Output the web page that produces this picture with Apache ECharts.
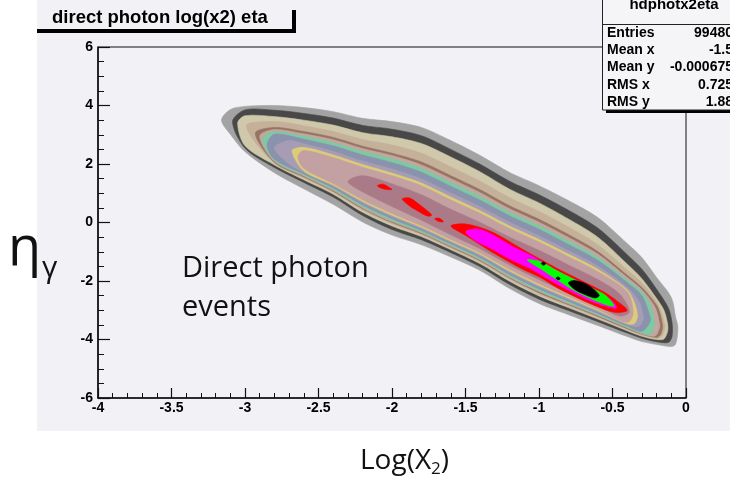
<!DOCTYPE html>
<html>
<head>
<meta charset="utf-8">
<script src="https://cdn.jsdelivr.net/npm/echarts@6/dist/echarts.min.js"></script>
<style>
  html, body { margin: 0; padding: 0; background: #ffffff; }
  #chart { width: 730px; height: 477px; }
</style>
</head>
<body>
<div id="chart"></div>
<script>
// ---- Axis ranges --------------------------------------------------------
const logX2Range = [-4, 0];
const etaRange = [-6, 6];

// ---- Contour bands of the log(x2) vs eta histogram ----------------------
// Each row: [log(x2), eta lower edge, eta upper edge]; rows where both
// edges coincide are the closed ends of a band.
const bandOuter = [
  [-3.16, 3.50, 3.50], [-3.10, 3.02, 3.86], [-3.00, 2.42, 3.97], [-2.80, 1.70, 4.00],
  [-2.60, 1.15, 3.93], [-2.40, 0.62, 3.79], [-2.20, 0.02, 3.56], [-2.00, -0.43, 3.45],
  [-1.80, -0.76, 3.25], [-1.60, -1.18, 2.80], [-1.40, -1.64, 2.29], [-1.20, -2.26, 1.71],
  [-1.00, -2.77, 1.26], [-0.80, -3.15, 0.75], [-0.60, -3.52, 0.17], [-0.40, -3.90, -0.72],
  [-0.30, -4.07, -1.20], [-0.20, -4.17, -1.88], [-0.10, -4.24, -2.56], [-0.07, -4.15, -3.25],
  [-0.055, -3.60, -3.60]
];
const bandDarkRing = [
  [-3.085, 3.45, 3.45], [-3.00, 2.54, 3.85], [-2.80, 1.88, 3.84], [-2.60, 1.37, 3.73],
  [-2.40, 0.87, 3.57], [-2.20, 0.24, 3.32], [-2.00, -0.24, 3.19], [-1.80, -0.59, 2.97],
  [-1.60, -1.03, 2.50], [-1.40, -1.51, 1.99], [-1.20, -2.12, 1.41], [-1.00, -2.62, 0.95],
  [-0.80, -3.01, 0.42], [-0.60, -3.39, -0.19], [-0.40, -3.78, -1.10], [-0.30, -3.96, -1.60],
  [-0.20, -4.08, -2.28], [-0.12, -4.10, -2.92], [-0.095, -3.90, -3.42]
];
const bandBeige = [
  [-3.05, 3.40, 3.40], [-3.00, 2.62, 3.65], [-2.80, 1.97, 3.62], [-2.60, 1.46, 3.50],
  [-2.40, 0.97, 3.33], [-2.20, 0.35, 3.07], [-2.00, -0.12, 2.93], [-1.80, -0.48, 2.70],
  [-1.60, -0.93, 2.24], [-1.40, -1.41, 1.73], [-1.20, -2.01, 1.14], [-1.00, -2.51, 0.67],
  [-0.80, -2.91, 0.12], [-0.60, -3.30, -0.50], [-0.40, -3.70, -1.42], [-0.30, -3.89, -1.92],
  [-0.20, -4.00, -2.60], [-0.15, -3.98, -3.00], [-0.125, -3.72, -3.47]
];
const bandTan = [
  [-2.99, 3.30, 3.30], [-2.80, 2.02, 3.45], [-2.60, 1.52, 3.31], [-2.40, 1.03, 3.11],
  [-2.20, 0.42, 2.84], [-2.00, -0.05, 2.65], [-1.80, -0.42, 2.37], [-1.60, -0.88, 1.90],
  [-1.40, -1.36, 1.41], [-1.20, -1.95, 0.85], [-1.00, -2.45, 0.38], [-0.80, -2.85, -0.15],
  [-0.60, -3.25, -0.76], [-0.40, -3.66, -1.62], [-0.30, -3.85, -2.06], [-0.20, -3.96, -2.70],
  [-0.165, -3.88, -3.10], [-0.145, -3.62, -3.50]
];
const bandBrown = [
  [-2.93, 3.05, 3.05], [-2.80, 2.06, 3.25], [-2.60, 1.56, 3.11], [-2.40, 1.07, 2.91],
  [-2.20, 0.47, 2.61], [-2.00, 0.00, 2.37], [-1.80, -0.38, 2.07], [-1.60, -0.84, 1.60],
  [-1.40, -1.31, 1.12], [-1.20, -1.90, 0.57], [-1.00, -2.40, 0.11], [-0.80, -2.81, -0.41],
  [-0.60, -3.21, -0.99], [-0.40, -3.63, -1.80], [-0.30, -3.82, -2.22], [-0.20, -3.93, -2.83],
  [-0.175, -3.85, -3.15], [-0.16, -3.62, -3.50]
];
const bandRose = [
  [-2.90, 2.95, 2.95], [-2.80, 2.09, 3.18], [-2.60, 1.59, 3.03], [-2.40, 1.10, 2.83],
  [-2.20, 0.50, 2.53], [-2.00, 0.03, 2.29], [-1.80, -0.35, 1.97], [-1.60, -0.81, 1.50],
  [-1.40, -1.28, 1.02], [-1.20, -1.87, 0.47], [-1.00, -2.36, 0.01], [-0.80, -2.78, -0.51],
  [-0.60, -3.18, -1.08], [-0.40, -3.60, -1.88], [-0.30, -3.80, -2.30], [-0.21, -3.88, -2.90],
  [-0.18, -3.60, -3.45]
];
const bandTeal = [
  [-2.88, 2.85, 2.85], [-2.80, 2.12, 3.10], [-2.60, 1.62, 2.95], [-2.40, 1.13, 2.73],
  [-2.20, 0.54, 2.43], [-2.00, 0.07, 2.18], [-1.80, -0.32, 1.85], [-1.60, -0.78, 1.37],
  [-1.40, -1.25, 0.89], [-1.20, -1.83, 0.35], [-1.00, -2.33, -0.11], [-0.80, -2.74, -0.63],
  [-0.60, -3.15, -1.19], [-0.40, -3.58, -1.97], [-0.30, -3.78, -2.38], [-0.24, -3.82, -2.85],
  [-0.215, -3.50, -3.40]
];
const bandSlate = [
  [-2.85, 2.65, 2.65], [-2.80, 2.16, 3.02], [-2.60, 1.66, 2.85], [-2.40, 1.18, 2.62],
  [-2.20, 0.60, 2.31], [-2.00, 0.13, 2.05], [-1.80, -0.27, 1.72], [-1.60, -0.73, 1.24],
  [-1.40, -1.20, 0.76], [-1.20, -1.78, 0.23], [-1.00, -2.27, -0.23], [-0.80, -2.69, -0.75],
  [-0.60, -3.11, -1.29], [-0.40, -3.54, -2.05], [-0.30, -3.72, -2.50], [-0.245, -3.40, -3.20]
];
const bandLilac = [
  [-2.80, 2.55, 2.55], [-2.70, 2.00, 2.80], [-2.60, 1.72, 2.69], [-2.40, 1.24, 2.43],
  [-2.20, 0.67, 2.10], [-2.00, 0.20, 1.83], [-1.80, -0.21, 1.49], [-1.60, -0.67, 1.01],
  [-1.40, -1.14, 0.54], [-1.20, -1.71, 0.01], [-1.00, -2.20, -0.45], [-0.80, -2.63, -0.96],
  [-0.60, -3.05, -1.49], [-0.40, -3.49, -2.22], [-0.32, -3.55, -2.70], [-0.29, -3.30, -3.20]
];
const bandYellow = [
  [-2.68, 2.45, 2.45], [-2.60, 1.76, 2.57], [-2.40, 1.28, 2.31], [-2.20, 0.72, 1.98],
  [-2.00, 0.25, 1.69], [-1.80, -0.16, 1.35], [-1.60, -0.63, 0.87], [-1.40, -1.09, 0.40],
  [-1.20, -1.66, -0.12], [-1.00, -2.15, -0.58], [-0.80, -2.58, -1.08], [-0.60, -3.01, -1.60],
  [-0.40, -3.46, -2.30], [-0.35, -3.45, -2.75], [-0.33, -3.20, -3.20]
];
const bandPink = [
  [-2.64, 2.25, 2.25], [-2.60, 1.85, 2.46], [-2.40, 1.33, 2.22], [-2.20, 0.78, 1.89],
  [-2.00, 0.31, 1.60], [-1.80, -0.11, 1.26], [-1.60, -0.58, 0.77], [-1.40, -1.04, 0.31],
  [-1.20, -1.60, -0.21], [-1.00, -2.09, -0.67], [-0.80, -2.53, -1.17], [-0.60, -2.97, -1.68],
  [-0.40, -3.42, -2.37], [-0.36, -3.10, -3.10]
];
const bandMauve = [
  [-2.30, 1.40, 1.40], [-2.20, 1.05, 1.60], [-2.00, 0.55, 1.32], [-1.80, 0.08, 0.95],
  [-1.60, -0.42, 0.45], [-1.40, -0.90, 0.00], [-1.20, -1.45, -0.50], [-1.00, -1.95, -0.95],
  [-0.80, -2.40, -1.45], [-0.60, -2.85, -1.95], [-0.45, -3.20, -2.45], [-0.385, -3.05, -3.05]
];
const peakRed = [
  [-1.60, -0.12, -0.12], [-1.50, -0.44, -0.05], [-1.33, -0.98, -0.30], [-1.11, -1.60, -0.92],
  [-0.99, -1.88, -1.26], [-0.88, -2.22, -1.56], [-0.77, -2.50, -1.84], [-0.65, -2.78, -2.14],
  [-0.55, -2.98, -2.40], [-0.47, -3.08, -2.68], [-0.40, -3.00, -3.00]
];
const peakRedSpotA = [[-2.10, 1.26, 1.26], [-2.06, 1.15, 1.31], [-2.02, 1.12, 1.20], [-2.00, 1.14, 1.14]];
const peakRedSpotB = [[-1.93, 0.80, 0.80], [-1.88, 0.56, 0.84], [-1.82, 0.38, 0.64], [-1.76, 0.22, 0.40], [-1.73, 0.25, 0.25]];
const peakRedSpotC = [[-1.71, 0.13, 0.13], [-1.68, 0.03, 0.15], [-1.65, 0.03, 0.03]];
const peakMagenta = [
  [-1.50, -0.32, -0.32], [-1.42, -0.66, -0.22], [-1.33, -0.88, -0.38], [-1.18, -1.30, -0.82],
  [-1.05, -1.60, -1.14], [-0.88, -2.10, -1.64], [-0.65, -2.68, -2.22], [-0.52, -2.90, -2.60],
  [-0.47, -2.92, -2.92]
];
const peakGreen = [
  [-1.08, -1.28, -1.28], [-0.99, -1.58, -1.34], [-0.88, -1.95, -1.64], [-0.77, -2.30, -1.92],
  [-0.65, -2.60, -2.22], [-0.55, -2.80, -2.48], [-0.49, -2.85, -2.85]
];
const peakBlack = [
  [-0.80, -2.06, -2.06], [-0.76, -2.28, -1.98], [-0.68, -2.48, -2.10], [-0.62, -2.58, -2.32],
  [-0.59, -2.50, -2.50]
];
const peakBlackDotA = [[-0.985, -1.40, -1.40], [-0.97, -1.46, -1.35], [-0.955, -1.41, -1.41]];
const peakBlackDotB = [[-0.885, -1.90, -1.90], [-0.87, -1.96, -1.86], [-0.855, -1.92, -1.92]];

// ---- Texts --------------------------------------------------------------
const titleText = 'direct photon log(x2) eta';
const statsName = 'hdphotx2eta';
const statLabels = ['Entries', 'Mean x', 'Mean y', 'RMS x', 'RMS y'];
const statValues = ['99480', '-1.5', '-0.000675', '0.725', '1.88'];
const noteLines = ['Direct photon', 'events'];
const yTitle = ['\u03b7', '\u03b3'];
const xTitle = ['Log(X', '2', ')'];

// ---- Styling ------------------------------------------------------------
const PANEL = '#f2f1f5';
const layerList = [
  [bandOuter, '#a3a3a3'],
  [bandDarkRing, '#474847'],
  [bandBeige, '#cfc8ab'],
  [bandTan, '#c5b09a'],
  [bandBrown, '#977361'],
  [bandRose, '#c2a7a1'],
  [bandTeal, '#7bcaa2'],
  [bandSlate, '#8a92ae'],
  [bandLilac, '#a69db5'],
  [bandYellow, '#dccb78'],
  [bandPink, '#c3a0a2'],
  [bandMauve, '#ab7a88'],
  [peakRed, '#ff0000'],
  [peakRedSpotA, '#ff0000'],
  [peakRedSpotB, '#ff0000'],
  [peakRedSpotC, '#ff0000'],
  [peakMagenta, '#ff00ff'],
  [peakGreen, '#00ff00'],
  [peakBlack, '#000000'],
  [peakBlackDotA, '#000000'],
  [peakBlackDotB, '#000000']
];

function bandSeries(points, color) {
  return {
    type: 'custom',
    coordinateSystem: 'cartesian2d',
    silent: true,
    clip: true,
    data: points,
    encode: { x: 0, y: [1, 2] },
    renderItem: function (params, api) {
      if (params.dataIndex !== 0) return null;
      const outline = points.map(function (p) { return api.coord([p[0], p[2]]); });
      for (let i = points.length - 1; i >= 0; i--) {
        if (points[i][1] !== points[i][2]) outline.push(api.coord([points[i][0], points[i][1]]));
      }
      return {
        type: 'polygon',
        shape: { points: outline, smooth: 0.3 },
        style: { fill: color, stroke: color, lineWidth: 0.6 }
      };
    }
  };
}

// text width helper for placing sub-scripted pieces
const measureCtx = document.createElement('canvas').getContext('2d');
function textWidth(str, font) { measureCtx.font = font; return measureCtx.measureText(str).width; }

const boldFont = function (size) { return 'bold ' + size + 'px "Liberation Sans", Arial, sans-serif'; };
const noteFont = function (size) { return size + 'px "Open Sans", sans-serif'; };

const graphics = [];
// panel background (white margins stay left and below)
graphics.push({ type: 'rect', z: -10, silent: true, shape: { x: 37, y: 0, width: 693, height: 431 }, style: { fill: PANEL } });

// title box with drop shadow
graphics.push({ type: 'rect', z: 10, shape: { x: 37, y: -2, width: 256, height: 32 }, style: { fill: PANEL } });
graphics.push({ type: 'rect', z: 10, shape: { x: 37, y: 29, width: 259, height: 4 }, style: { fill: '#000' } });
graphics.push({ type: 'rect', z: 10, shape: { x: 292, y: 10, width: 4, height: 23 }, style: { fill: '#000' } });
graphics.push({ type: 'text', z: 11, style: { text: titleText, x: 52, y: 18, font: boldFont(18.5), fill: '#000', align: 'left', verticalAlign: 'middle' } });

// statistics box
graphics.push({ type: 'rect', z: 10, shape: { x: 606, y: 109, width: 130, height: 4 }, style: { fill: '#000' } });
graphics.push({ type: 'rect', z: 11, shape: { x: 602.5, y: -3, width: 140, height: 113 }, style: { fill: '#f5f4f6', stroke: '#222', lineWidth: 1 } });
graphics.push({ type: 'line', z: 12, shape: { x1: 602.5, y1: 24.5, x2: 730, y2: 24.5 }, style: { stroke: '#222', lineWidth: 1 } });
graphics.push({ type: 'text', z: 12, style: { text: statsName, x: 674, y: 5, font: boldFont(15), fill: '#000', align: 'center', verticalAlign: 'middle' } });
statLabels.forEach(function (lab, i) {
  const y = 33 + i * 17.3;
  graphics.push({ type: 'text', z: 12, style: { text: lab, x: 607, y: y, font: boldFont(14), fill: '#000', align: 'left', verticalAlign: 'middle' } });
  graphics.push({ type: 'text', z: 12, style: { text: statValues[i], x: 733, y: y, font: boldFont(14), fill: '#000', align: 'right', verticalAlign: 'middle' } });
});

// annotation inside the frame
noteLines.forEach(function (line, i) {
  graphics.push({ type: 'text', z: 12, style: { text: line, x: 182, y: 269 + i * 39, font: noteFont(29), fill: '#111', align: 'left', verticalAlign: 'middle' } });
});

// y title: eta with gamma subscript
const etaFont = noteFont(54), gamFont = noteFont(30);
graphics.push({ type: 'text', z: 12, style: { text: yTitle[0], x: 8, y: 250, font: etaFont, fill: '#111', align: 'left', verticalAlign: 'middle' } });
graphics.push({ type: 'text', z: 12, style: { text: yTitle[1], x: 8 + textWidth(yTitle[0], etaFont) + 1, y: 268, font: gamFont, fill: '#111', align: 'left', verticalAlign: 'middle' } });

// x title: Log(X2) with subscript 2
const xtFont = noteFont(28), xsFont = noteFont(17);
let xx = 360;
graphics.push({ type: 'text', z: 12, style: { text: xTitle[0], x: xx, y: 461, font: xtFont, fill: '#111', align: 'left', verticalAlign: 'middle' } });
xx += textWidth(xTitle[0], xtFont);
graphics.push({ type: 'text', z: 12, style: { text: xTitle[1], x: xx, y: 469, font: xsFont, fill: '#111', align: 'left', verticalAlign: 'middle' } });
xx += textWidth(xTitle[1], xsFont);
graphics.push({ type: 'text', z: 12, style: { text: xTitle[2], x: xx, y: 461, font: xtFont, fill: '#111', align: 'left', verticalAlign: 'middle' } });

const axisLabelStyle = { color: '#000', fontFamily: '"Liberation Sans", Arial, sans-serif', fontWeight: 'bold', fontSize: 14 };

const option = {
  animation: false,
  backgroundColor: 'transparent',
  grid: { left: 98, right: 44, top: 47, bottom: 79, show: true, backgroundColor: PANEL, borderColor: '#111', borderWidth: 1 },
  xAxis: {
    type: 'value', min: logX2Range[0], max: logX2Range[1], interval: 0.5,
    axisLine: { onZero: false, lineStyle: { color: '#111', width: 1.6 } },
    axisTick: { inside: true, length: 10, lineStyle: { color: '#111', width: 1.2 } },
    minorTick: { show: true, splitNumber: 5, length: 5, lineStyle: { color: '#111', width: 1 } },
    splitLine: { show: false },
    axisLabel: Object.assign({ margin: 3 }, axisLabelStyle)
  },
  yAxis: {
    type: 'value', min: etaRange[0], max: etaRange[1], interval: 2,
    axisLine: { onZero: false, lineStyle: { color: '#111', width: 1.6 } },
    axisTick: { inside: true, length: 12, lineStyle: { color: '#111', width: 1.2 } },
    minorTick: { show: true, splitNumber: 4, length: 6, lineStyle: { color: '#111', width: 1 } },
    splitLine: { show: false },
    axisLabel: Object.assign({ margin: 5 }, axisLabelStyle)
  },
  graphic: graphics,
  series: layerList.map(function (l) { return bandSeries(l[0], l[1]); })
};

const chart = echarts.init(document.getElementById('chart'), null, { renderer: 'canvas' });
chart.setOption(option);
</script>
</body>
</html>
